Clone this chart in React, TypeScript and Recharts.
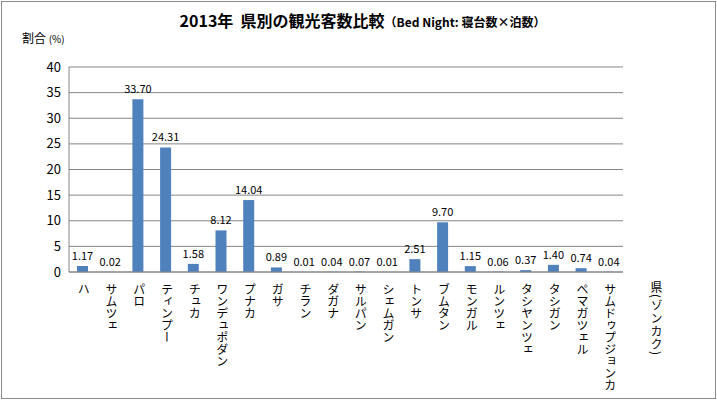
import React from "react";
import { BarChart, Bar, XAxis, YAxis, CartesianGrid, LabelList } from "recharts";

const prefectures = [
  "ハ", "サムツェ", "パロ", "ティンプー", "チュカ", "ワンデュポダン", "プナカ",
  "ガサ", "チラン", "ダガナ", "サルパン", "シェムガン", "トンサ", "ブムタン",
  "モンガル", "ルンツェ", "タシヤンツェ", "タシガン", "ペマガツェル", "サムドゥプジョンカ",
];
const shares = [
  1.17, 0.02, 33.7, 24.31, 1.58, 8.12, 14.04, 0.89, 0.01, 0.04, 0.07, 0.01,
  2.51, 9.7, 1.15, 0.06, 0.37, 1.4, 0.74, 0.04,
];
const yTicks = [0, 5, 10, 15, 20, 25, 30, 35, 40];

const data = prefectures.map((name, i) => ({ name, value: shares[i] }));

const FONT = '"Noto Sans CJK JP", "Noto Sans", sans-serif';

const VerticalTick = (props: any) => {
  const { x, y, payload } = props;
  return (
    <text
      x={x + 1}
      y={y + 3}
      fontSize={12}
      fill="#000"
      fontFamily={FONT}
      style={{ writingMode: "vertical-rl" }}
    >
      {payload.value}
    </text>
  );
};

export default function App() {
  return (
    <div
      style={{
        position: "absolute",
        left: 0,
        top: 0,
        width: 717,
        height: 401,
        background: "#fff",
        fontFamily: FONT,
      }}
    >
      <div
        style={{
          position: "absolute",
          left: 1,
          top: 1,
          width: 713,
          height: 396,
          border: "1px solid #8c8c8c",
        }}
      />
      <div
        style={{
          position: "absolute",
          left: 4,
          width: 717,
          top: 8,
          textAlign: "center",
          fontWeight: "bold",
          fontSize: 16,
          whiteSpace: "nowrap",
        }}
      >
        2013年&nbsp;&nbsp;県別の観光客数比較
        <span style={{ fontSize: 12 }}>（Bed Night: 寝台数×泊数）</span>
      </div>
      <div style={{ position: "absolute", left: 22, top: 29, fontSize: 12 }}>
        割合 <span style={{ fontSize: 10 }}>(%)</span>
      </div>
      <div
        style={{
          position: "absolute",
          left: 648,
          top: 281,
          fontSize: 12,
          letterSpacing: 1,
          writingMode: "vertical-rl",
        }}
      >
        県(ゾンカク)
      </div>
      <div style={{ position: "absolute", left: 0, top: 0 }}>
        <BarChart
          width={717}
          height={401}
          data={data}
          margin={{ top: 67, right: 94, bottom: 29, left: 0 }}
          barCategoryGap="30%"
        >
          <CartesianGrid vertical={false} stroke="#868686" />
          <XAxis
            dataKey="name"
            interval={0}
            height={100}
            tick={<VerticalTick />}
            tickLine={false}
            axisLine={{ stroke: "#868686" }}
          />
          <YAxis
            width={69}
            domain={[0, 40]}
            ticks={yTicks}
            tickLine={false}
            axisLine={{ stroke: "#868686" }}
            tick={{ fill: "#000", fontSize: 13, fontFamily: FONT }}
          />
          <Bar dataKey="value" fill="#4f81bd" barSize={11} isAnimationActive={false}>
            <LabelList
              dataKey="value"
              position="top"
              offset={6}
              formatter={(v: any) => Number(v).toFixed(2)}
              style={{ fill: "#000", fontSize: 11, fontFamily: FONT }}
            />
          </Bar>
        </BarChart>
      </div>
    </div>
  );
}
